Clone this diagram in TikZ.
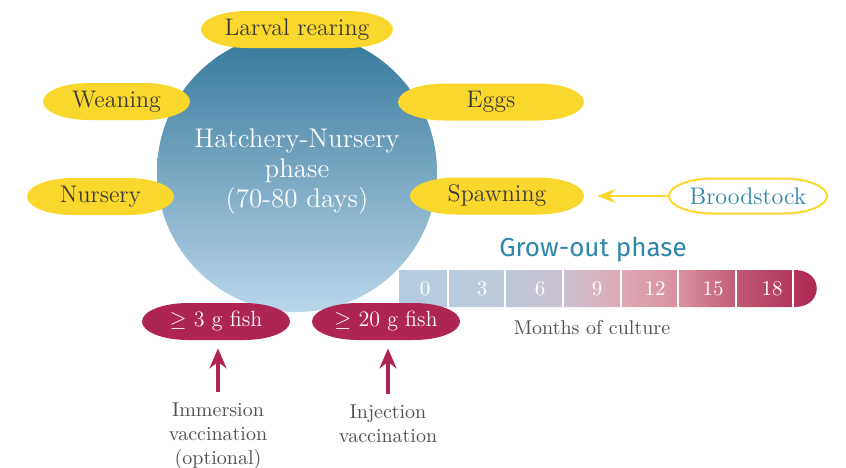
\documentclass[tikz,border=0pt]{standalone}
\usepackage{amsmath}
\usepackage{amssymb}
\usepackage{xcolor}
\usepackage{fontspec}
\usepackage{tikz}
\usetikzlibrary{arrows.meta,positioning}
\newfontfamily\growfont{Fira Sans}
\definecolor{stageyellow}{RGB}{250,215,45}
\definecolor{stagetext}{RGB}{58,58,58}
\definecolor{hatchtop}{RGB}{52,120,155}
\definecolor{hatchbottom}{RGB}{186,214,234}
\definecolor{fishred}{RGB}{174,36,82}
\definecolor{growteal}{RGB}{46,134,171}
\definecolor{labelgray}{RGB}{80,80,80}
\definecolor{barA}{RGB}{180,204,224}
\definecolor{barB}{RGB}{190,200,216}
\definecolor{barC}{RGB}{204,192,208}
\definecolor{barD}{RGB}{222,168,180}
\definecolor{barE}{RGB}{216,142,158}
\definecolor{barF}{RGB}{190,86,114}
\definecolor{barG}{RGB}{172,35,80}
\pgfdeclarehorizontalshading{growbar}{100bp}{color(0bp)=(barA); color(25bp)=(barA);
  color(37.8bp)=(barB); color(44.7bp)=(barC); color(51.6bp)=(barD);
  color(58.4bp)=(barE); color(65.3bp)=(barF); color(75bp)=(barG); color(100bp)=(barG)}
% #1 cx, #2 cy, #3 half width, #4 half height
\newcommand{\pill}[4]{({#1-#3},#2) .. controls ({#1-#3},{#2-0.55*#4}) and ({#1-#3+1.1*#4},{#2-#4})
  .. ({#1-#3+2.5*#4},{#2-#4}) -- ({#1+#3-2.5*#4},{#2-#4})
  .. controls ({#1+#3-1.1*#4},{#2-#4}) and ({#1+#3},{#2-0.55*#4}) .. ({#1+#3},#2)
  .. controls ({#1+#3},{#2+0.55*#4}) and ({#1+#3-1.1*#4},{#2+#4}) .. ({#1+#3-2.5*#4},{#2+#4})
  -- ({#1-#3+2.5*#4},{#2+#4})
  .. controls ({#1-#3+1.1*#4},{#2+#4}) and ({#1-#3},{#2+0.55*#4}) .. cycle}
\tikzset{
  stage/.style={text=stagetext, minimum height=18.5pt, inner sep=0pt,
    font=\fontsize{12}{13}\selectfont},
  fishsize/.style={text=white, minimum width=74pt, minimum height=18.5pt,
    inner sep=0pt, font=\fontsize{11}{13}\selectfont},
  vaccine/.style={text=labelgray, align=center, font=\fontsize{10}{12}\selectfont},
  vaccarrow/.style={fishred, line width=1.6pt, -{Stealth[length=10pt,width=8.5pt]}},
  broodarrow/.style={stageyellow, line width=1pt, -{Stealth[length=9pt,width=7pt]}}
}
\begin{document}
\begin{tikzpicture}[x=0.5pt,y=-0.5pt]
  \useasboundingbox (0,0) rectangle (846,467);
  % Hatchery-Nursery
  \node[circle, minimum size=140pt, inner sep=0pt, top color=hatchtop, bottom color=hatchbottom,
    text=white, align=center, font=\fontsize{13.5}{15}\selectfont] (hatch) at (297,172)
    {Hatchery-Nursery\\phase\\(70-80 days)};
  \foreach \cx/\cy/\a/\n/\t in {297/29.5/96/larval/Larval rearing, 116.5/101.5/73.5/weaning/Weaning,
      100.5/196.5/73.5/nursery/Nursery, 491/102/93/eggs/Eggs, 497/196/87/spawn/Spawning}{
    \fill[stageyellow] \pill{\cx}{\cy}{\a}{18.5};
    \node[stage, minimum width=\a pt] (\n) at (\cx,\cy) {\t};
  }
  \draw[stageyellow, line width=1pt, fill=white] \pill{748}{196}{79}{17.5};
  \node[stage, text=growteal, minimum width=79pt] (brood) at (748,196) {Broodstock};
  \draw[broodarrow, shorten >=6.5pt] (brood.west) -- (spawn.east);
  % Grow-out
  \node[text=growteal, font=\growfont\fontsize{13}{15}\selectfont] (grow) at (593,250) {Grow-out phase};
  \shade[shading=growbar] (398,270) -- (795,270) .. controls (824,270) and (824,307) .. (795,307)
    -- (398,307) -- cycle;
  \foreach \x in {398,448,505,563,621,678,736,793}
    \draw[white, line width=1pt] (\x,270) -- (\x,307);
  \foreach \x/\m in {425/0,482/3,540/6,597/9,655/12,713/15,772/18}
    \node[text=white, font=\fontsize{10.5}{12}\selectfont] (m\m) at (\x,289) {\m};
  \node[text=labelgray, font=\fontsize{10}{12}\selectfont] (months) at (592,328) {Months of culture};
  % Vaccination
  \fill[fishred] \pill{216}{321.5}{74}{18.5};
  \fill[fishred] \pill{386}{321.5}{74}{18.5};
  \node[fishsize] (fish3) at (216,321.5) {$\geq$ 3 g fish};
  \node[fishsize] (fish20) at (386,321.5) {$\geq$ 20 g fish};
  \node[vaccine] (imm) at (218,436) {Immersion\\vaccination\\(optional)};
  \node[vaccine] (inj) at (388,424) {Injection\\vaccination};
  \draw[vaccarrow, shorten <=2pt, shorten >=4pt] (imm.north) -- (imm.north |- fish3.south);
  \draw[vaccarrow, shorten <=2pt, shorten >=4pt] (inj.north) -- (inj.north |- fish20.south);
\end{tikzpicture}
\end{document}
